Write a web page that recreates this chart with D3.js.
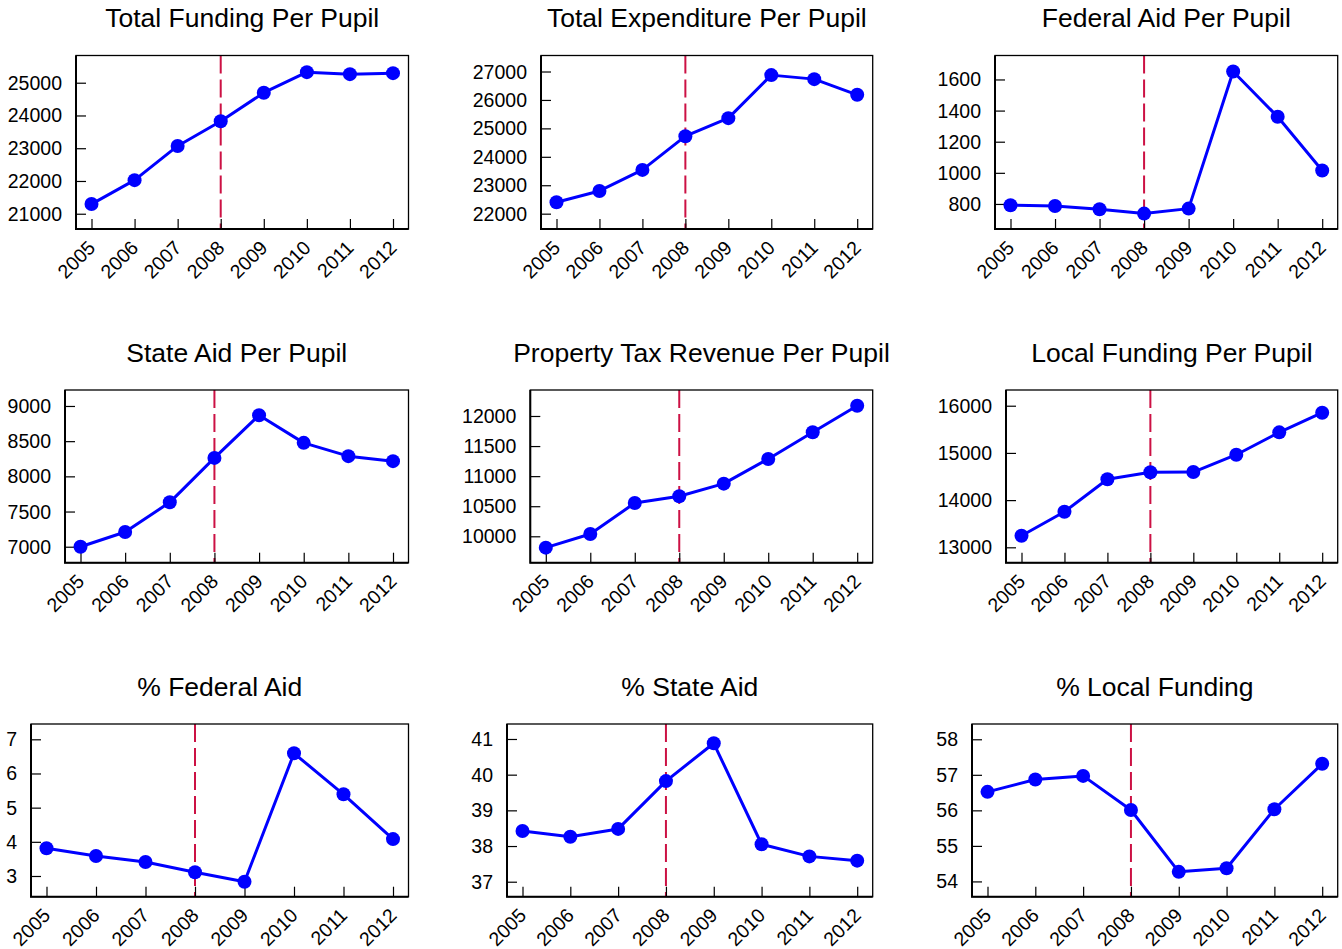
<!DOCTYPE html>
<html>
<head>
<meta charset="utf-8">
<script src="https://cdn.jsdelivr.net/npm/d3@7/dist/d3.min.js"></script>
<style>
  html, body { margin: 0; padding: 0; background: #fff; }
  svg { display: block; }
  text { font-family: "Liberation Sans", Arial, Helvetica, sans-serif; fill: #000; }
</style>
</head>
<body>
<svg id="chart" width="1342" height="949"></svg>
<script>
// School finance indicators, 2005-2012
const years = [2005, 2006, 2007, 2008, 2009, 2010, 2011, 2012];
const policyYear = 2008;

const titles = [
  "Total Funding Per Pupil", "Total Expenditure Per Pupil", "Federal Aid Per Pupil",
  "State Aid Per Pupil", "Property Tax Revenue Per Pupil", "Local Funding Per Pupil",
  "% Federal Aid", "% State Aid", "% Local Funding"
];

const totalFunding     = [21295, 22026, 23070, 23822, 24696, 25322, 25262, 25292];
const totalExpenditure = [22401, 22799, 23539, 24725, 25359, 26873, 26732, 26180];
const federalAid       = [792, 787, 766, 738, 770, 1651, 1360, 1015];
const stateAid         = [7000, 7209, 7631, 8262, 8868, 8476, 8287, 8216];
const propertyTax      = [9811, 10038, 10553, 10665, 10875, 11286, 11729, 12171];
const localFunding     = [13246, 13754, 14441, 14589, 14595, 14962, 15436, 15852];
const pctFederal       = [3.81, 3.585, 3.41, 3.108, 2.833, 6.59, 5.39, 4.08];
const pctState         = [38.42, 38.26, 38.48, 39.82, 40.88, 38.05, 37.71, 37.59];
const pctLocal         = [56.52, 56.87, 56.97, 56.01, 54.27, 54.37, 56.03, 57.31];

const seriesList = [totalFunding, totalExpenditure, federalAid, stateAid, propertyTax,
                    localFunding, pctFederal, pctState, pctLocal];

// y-axis tick values for each panel
const yTicks = [
  [21000, 22000, 23000, 24000, 25000],
  [22000, 23000, 24000, 25000, 26000, 27000],
  [800, 1000, 1200, 1400, 1600],
  [7000, 7500, 8000, 8500, 9000],
  [10000, 10500, 11000, 11500, 12000],
  [13000, 14000, 15000, 16000],
  [3, 4, 5, 6, 7],
  [37, 38, 39, 40, 41],
  [54, 55, 56, 57, 58]
];

// y-axis limits for each panel
const yLimits = [
  [20534, 25831], [21461, 27563], [639, 1754],
  [6773, 9227], [9561, 12432], [12674, 16333],
  [2.394, 7.448], [36.58, 41.42], [53.57, 58.43]
];

// plot box of each panel: [left, top, right, bottom]
const boxes = [
  [76, 55.5, 408.5, 229], [541, 55.5, 872.7, 229], [995, 55.5, 1337.7, 229],
  [65, 390, 408.5, 562.7], [530.3, 390, 872.7, 562.7], [1006, 390, 1337.7, 562.7],
  [31, 724, 408.5, 896.7], [507, 724, 872.7, 896.7], [972, 724, 1337.7, 896.7]
];

const svg = d3.select("#chart");
svg.append("rect").attr("width", 1342).attr("height", 949).attr("fill", "#fff");

const xPad = 15.5;
const tickLen = 10;
const blue = "#0000ff";
const red = "#cc1144";

seriesList.forEach((values, i) => {
  const [L, T, R, B] = boxes[i];
  const g = svg.append("g");

  const x = d3.scaleLinear().domain([years[0], years[years.length - 1]]).range([L + xPad, R - xPad]);
  const y = d3.scaleLinear().domain(yLimits[i]).range([B, T]);

  // title
  g.append("text")
    .attr("x", (L + R) / 2)
    .attr("y", T - 28.5)
    .attr("text-anchor", "middle")
    .style("font-size", "26.5px")
    .text(titles[i]);

  // policy year marker
  g.append("line")
    .attr("x1", x(policyYear)).attr("x2", x(policyYear))
    .attr("y1", T).attr("y2", B)
    .attr("stroke", red).attr("stroke-width", 2)
    .attr("stroke-dasharray", "18,6");

  // ticks pointing inward
  const xAxis = d3.axisBottom(x).tickValues(years).tickSize(-tickLen).tickFormat("");
  const xg = g.append("g").attr("transform", `translate(0,${B})`).call(xAxis);
  xg.select(".domain").remove();
  xg.selectAll(".tick line").attr("stroke", "#000").attr("stroke-width", 1.2);

  const yAxis = d3.axisLeft(y).tickValues(yTicks[i]).tickSize(-tickLen).tickFormat("");
  const yg = g.append("g").attr("transform", `translate(${L},0)`).call(yAxis);
  yg.select(".domain").remove();
  yg.selectAll(".tick line").attr("stroke", "#000").attr("stroke-width", 1.2);

  // y tick labels
  g.selectAll(".ylab").data(yTicks[i]).enter().append("text")
    .attr("x", L - 14)
    .attr("y", d => y(d))
    .attr("dy", "0.36em")
    .attr("text-anchor", "end")
    .style("font-size", "19.5px")
    .text(d => d);

  // x tick labels, rotated
  g.selectAll(".xlab").data(years).enter().append("text")
    .attr("transform", d => `translate(${x(d)},${B + 15}) rotate(-45)`)
    .attr("dy", "0.36em")
    .attr("text-anchor", "end")
    .style("font-size", "19.5px")
    .text(d => d);

  // box
  g.append("rect")
    .attr("x", L).attr("y", T).attr("width", R - L).attr("height", B - T)
    .attr("fill", "none").attr("stroke", "#000").attr("stroke-width", 1.3);
  g.append("path")
    .attr("d", `M${L},${T}V${B}H${R}`)
    .attr("fill", "none").attr("stroke", "#000").attr("stroke-width", 2);

  // series line and points
  const pts = years.map((yr, k) => [yr, values[k]]);
  g.append("path")
    .datum(pts)
    .attr("fill", "none")
    .attr("stroke", blue)
    .attr("stroke-width", 3)
    .attr("stroke-linejoin", "round")
    .attr("d", d3.line().x(d => x(d[0])).y(d => y(d[1])));
  g.selectAll(".pt").data(pts).enter().append("circle")
    .attr("cx", d => x(d[0]))
    .attr("cy", d => y(d[1]))
    .attr("r", 7)
    .attr("fill", blue);
});
</script>
</body>
</html>
